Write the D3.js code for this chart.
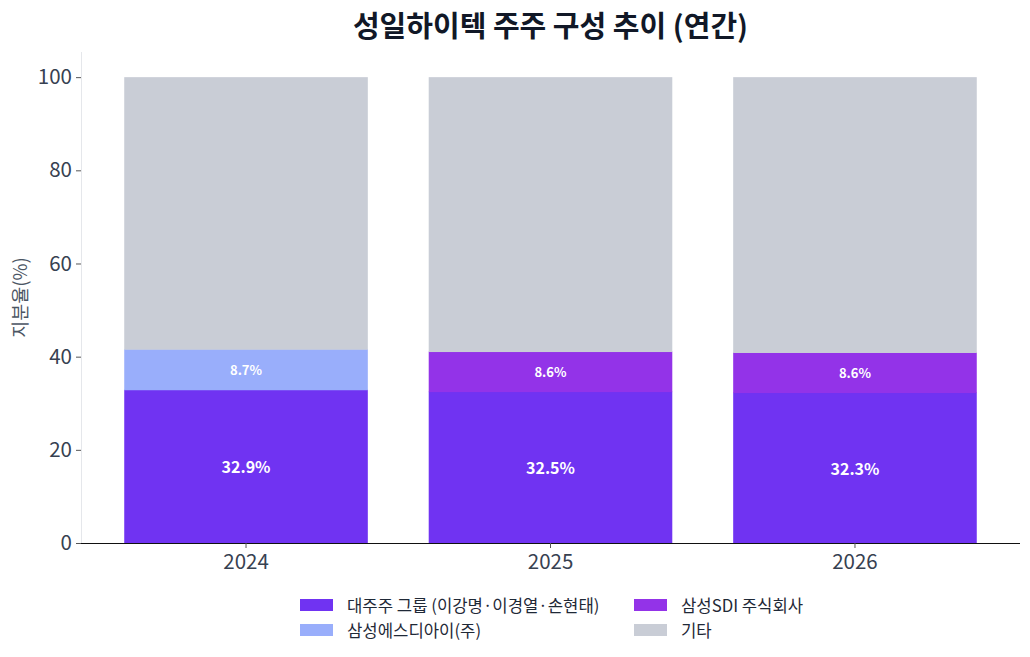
<!DOCTYPE html>
<html>
<head>
<meta charset="utf-8">
<script src="https://cdn.jsdelivr.net/npm/d3@7"></script>
<style>
  body { margin: 0; background: #fff; }
  svg text { font-family: "Noto Sans CJK KR", "Noto Sans", sans-serif; }
</style>
</head>
<body>
<div class="vis"></div>
<script>
// Width and height
var w = 1030;
var h = 657;
var margin = {top: 52, right: 10, bottom: 114, left: 81};

// Data
var years = ["2024", "2025", "2026"];
var seriesNames = ["대주주 그룹 (이강명·이경열·손현태)", "삼성에스디아이(주)", "삼성SDI 주식회사", "기타"];
var majorGroup = [32.9, 32.5, 32.3];
var samsungOld = [8.7, 0, 0];
var samsungNew = [0, 8.6, 8.6];
var others = [58.4, 58.9, 59.1];
var yTicks = [0, 20, 40, 60, 80, 100];
var colours = ["#7033F2", "#99AEFB", "#9333E8", "#C9CDD6"];

var keys = ["major", "sdiOld", "sdiNew", "other"];
var rows = years.map(function(y, i) {
    return {Year: y, major: majorGroup[i], sdiOld: samsungOld[i], sdiNew: samsungNew[i], other: others[i]};
});
var series = d3.stack().keys(keys)(rows);

var svg = d3.select(".vis").append("svg")
    .attr("width", w)
    .attr("height", h);

var xScale = d3.scaleBand()
    .domain(years)
    .range([margin.left, w - margin.right])
    .paddingInner(0.2)
    .paddingOuter(0.142);

var yScale = d3.scaleLinear()
    .domain([0, 105.4])
    .range([h - margin.bottom, margin.top]);

// bars
var groups = svg.selectAll("g.layer")
    .data(series)
    .enter()
    .append("g")
    .attr("class", "layer")
    .style("fill", function(d, i) { return colours[i]; });

groups.selectAll("rect")
    .data(function(d) { return d.filter(function(e) { return e[1] - e[0] > 0; }); })
    .enter()
    .append("rect")
    .attr("x", function(d) { return xScale(d.data.Year); })
    .attr("y", function(d) { return yScale(d[1]); })
    .attr("height", function(d) { return yScale(d[0]) - yScale(d[1]) + 0.5; })
    .attr("width", xScale.bandwidth());

// value labels (skip 기타)
series.forEach(function(s, si) {
    if (s.key == "other") return;
    s.forEach(function(d) {
        var v = d[1] - d[0];
        if (v <= 0) return;
        svg.append("text")
            .attr("x", xScale(d.data.Year) + xScale.bandwidth() / 2)
            .attr("y", yScale((d[0] + d[1]) / 2))
            .attr("text-anchor", "middle")
            .attr("dominant-baseline", "central")
            .style("fill", "#fff")
            .style("font-weight", "bold")
            .style("font-size", si == 0 ? "16px" : "13px")
            .text(v.toFixed(1) + "%");
    });
});

// axes
var xAxis = d3.axisBottom(xScale).tickSize(5).tickPadding(6);
var yAxis = d3.axisLeft(yScale).tickValues(yTicks).tickSize(5).tickPadding(4);

var gx = svg.append("g")
    .attr("transform", "translate(0," + (h - margin.bottom) + ")")
    .call(xAxis);
gx.select(".domain").attr("stroke", "#111").attr("d", "M" + margin.left + ",0.5H" + (w - margin.right));
gx.selectAll(".tick line").attr("stroke", "#555");
gx.selectAll(".tick text").style("font-size", "20.5px").style("fill", "#374151");

var gy = svg.append("g")
    .attr("transform", "translate(" + margin.left + ",0)")
    .call(yAxis);
gy.select(".domain").attr("stroke", "#e5e7eb").attr("d", "M0.5," + margin.top + "V" + (h - margin.bottom));
gy.selectAll(".tick line").attr("stroke", "#555");
gy.selectAll(".tick text").style("font-size", "20.5px").style("fill", "#374151");

// y label
svg.append("text")
    .attr("transform", "translate(19," + ((margin.top + h - margin.bottom) / 2) + ") rotate(-90)")
    .attr("text-anchor", "middle")
    .attr("dominant-baseline", "central")
    .style("font-size", "18.5px")
    .style("fill", "#4b5563")
    .text("지분율(%)");

// title
svg.append("text")
    .attr("x", (margin.left + w - margin.right) / 2)
    .attr("y", 24)
    .attr("text-anchor", "middle")
    .attr("dominant-baseline", "central")
    .style("font-size", "29px")
    .style("font-weight", "bold")
    .style("fill", "#111827")
    .text("성일하이텍 주주 구성 추이 (연간)");

// legend, 2 columns
var legendPos = [[300, 605], [300, 630], [634, 605], [634, 630]];
seriesNames.forEach(function(name, i) {
    var p = legendPos[i];
    svg.append("rect")
        .attr("x", p[0]).attr("y", p[1] - 6)
        .attr("width", 33).attr("height", 12)
        .style("fill", colours[i]);
    svg.append("text")
        .attr("x", p[0] + 47).attr("y", p[1])
        .attr("dominant-baseline", "central")
        .style("font-size", "16.7px")
        .style("fill", "#1f2937")
        .text(name);
});
</script>
</body>
</html>
